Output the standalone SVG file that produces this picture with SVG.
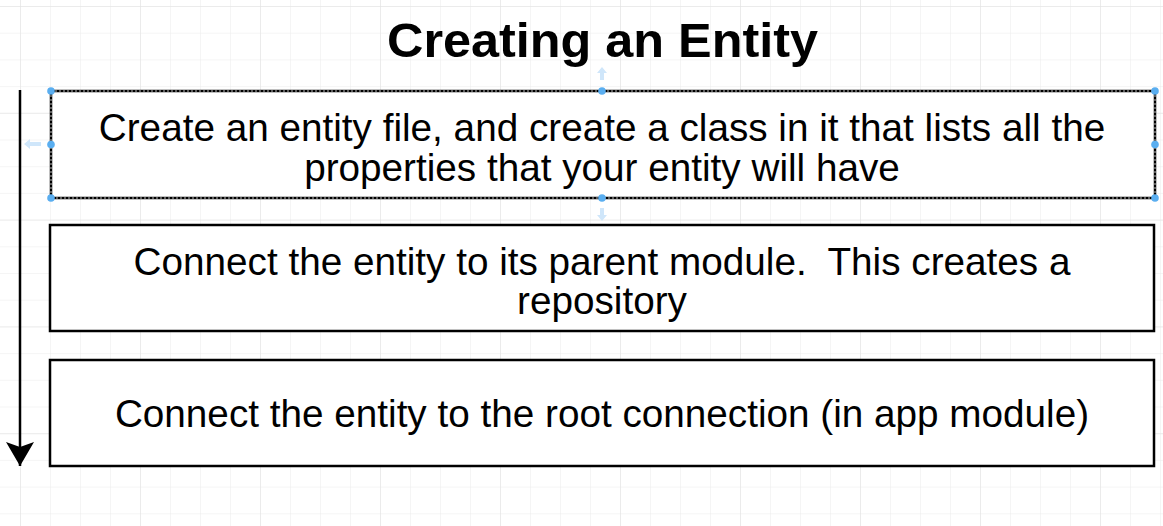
<svg xmlns="http://www.w3.org/2000/svg" width="1163" height="526" viewBox="0 0 1163 526">
<defs>
<pattern id="grid" x="20" y="6" width="30" height="26.7" patternUnits="userSpaceOnUse">
<path d="M0 0H30M0 0V26.7" fill="none" stroke="#ebebeb" stroke-width="1"/>
</pattern>
<pattern id="grid4" x="20" y="6" width="120" height="106.8" patternUnits="userSpaceOnUse">
<path d="M0 0H120M0 0V106.8" fill="none" stroke="#e2e2e2" stroke-width="1"/>
</pattern>
<marker id="ah" viewBox="0 0 24 28" refX="24" refY="14" markerWidth="24" markerHeight="28" markerUnits="userSpaceOnUse" orient="auto">
<path d="M0 0L24 14L0 28L5 14Z" fill="#000"/>
</marker>
</defs>
<style>
.box{fill:#fff;stroke:#000;stroke-width:2.5}
.t{font-family:"Liberation Sans",Arial,sans-serif;font-size:38.7px;fill:#000;text-anchor:middle}
.title{font-family:"Liberation Sans",Arial,sans-serif;font-size:48px;font-weight:bold;fill:#000;text-anchor:middle}
.h{fill:#5aaef0}
.ha{fill:#cfe6fa}
</style>
<rect width="1163" height="526" fill="#fff"/>
<rect width="1163" height="526" fill="url(#grid)"/>
<rect width="1163" height="526" fill="url(#grid4)"/>
<text class="title" x="602.5" y="57" textLength="431" lengthAdjust="spacingAndGlyphs">Creating an Entity</text>
<g id="connectors">
<line x1="20" y1="90" x2="20" y2="466" stroke="#000" stroke-width="2.5" marker-end="url(#ah)"/>
</g>
<g id="node1">
<rect class="box" x="51" y="91" width="1104" height="107"/>
<rect x="51" y="91" width="1104" height="107" fill="none" stroke="#bbb" stroke-width="1" stroke-dasharray="2 2"/>
<text class="t" x="602" y="141">Create an entity file, and create a class in it that lists all the</text>
<text class="t" x="602" y="181">properties that your entity will have</text>
<path class="ha" d="M602 67l-5 6h3v7h4v-7h3z"/>
<path class="ha" d="M602 221l-5-6h3v-7h4v7h3z"/>
<path class="ha" d="M24 144l6-5v3h11v4h-11v3z"/>
<circle class="h" cx="51" cy="91" r="3.8"/><circle class="h" cx="602" cy="91" r="3.8"/><circle class="h" cx="1155" cy="91" r="3.8"/>
<circle class="h" cx="51" cy="144.5" r="3.8"/><circle class="h" cx="1155" cy="144.5" r="3.8"/>
<circle class="h" cx="51" cy="198" r="3.8"/><circle class="h" cx="602" cy="198" r="3.8"/><circle class="h" cx="1155" cy="198" r="3.8"/>
</g>
<g id="node2">
<rect class="box" x="50" y="225" width="1104" height="106"/>
<text class="t" x="602" y="275" xml:space="preserve">Connect the entity to its parent module.  This creates a</text>
<text class="t" x="602" y="314">repository</text>
</g>
<g id="node3">
<rect class="box" x="50" y="360" width="1104" height="106"/>
<text class="t" x="602" y="427">Connect the entity to the root connection (in app module)</text>
</g>
</svg>
